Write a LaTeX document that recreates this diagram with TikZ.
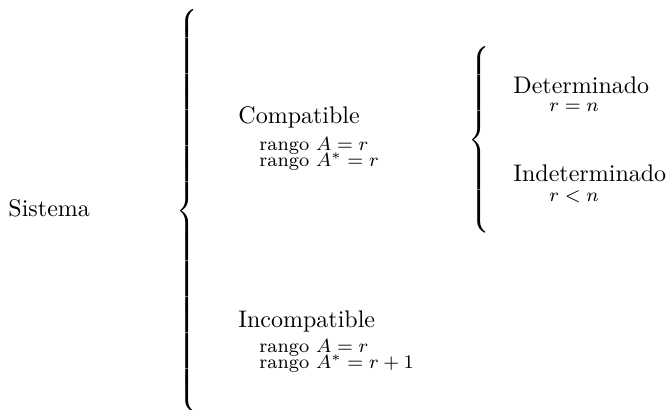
\documentclass[tikz,border=0pt]{standalone}
\usepackage{amsmath}
\usetikzlibrary{positioning}

\begin{document}
\begin{tikzpicture}[x=0.4167pt, y=-0.4167pt,
    txt/.style={anchor=base west, inner sep=0pt},
    cond/.style={anchor=base west, inner sep=0pt, font=\footnotesize}]
    \useasboundingbox (0,0) rectangle (672,410);
    % main classification
    \node[txt] (sistema) at (8,216) {Sistema};
    \node[inner sep=0pt] (llave) at (189,212) {$\left\{\rule[-82.5pt]{0pt}{165pt}\right.$};
    \node[txt] (compatible) at (238,123) {Compatible};
    \node[cond] (compA) at (259,150) {rango $A=r$};
    \node[cond] (compB) at (259,166) {rango $A^*=r$};
    \node[txt] (incompatible) at (238,327) {Incompatible};
    \node[cond] (incA) at (259,352) {rango $A=r$};
    \node[cond] (incB) at (259,368) {rango $A^*=r+1$};
    % compatible cases
    \node[inner sep=0pt] (llavec) at (481,141) {$\left\{\rule[-37.5pt]{0pt}{75pt}\right.$};
    \node[txt] (det) at (513,93) {Determinado};
    \node[cond] (detc) at (549,111) {$r=n$};
    \node[txt] (indet) at (513,182) {Indeterminado};
    \node[cond] (indetc) at (549,201) {$r<n$};
\end{tikzpicture}
\end{document}
